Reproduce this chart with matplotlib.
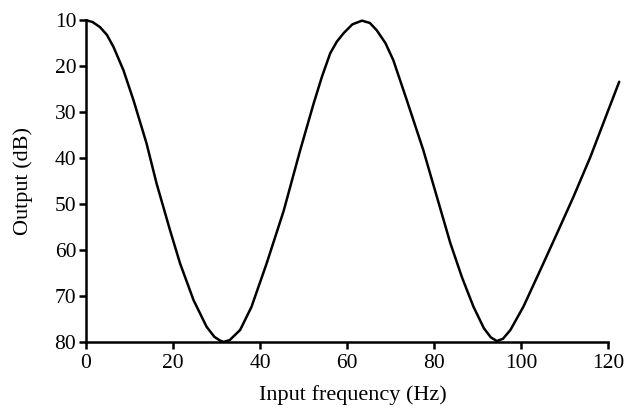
import matplotlib.pyplot as plt

# === DATA ===
freq_hz = [0, 1.5, 3.2, 4.8, 6.3, 8.6, 10.9, 13.9, 16.2, 19.3, 21.6,
           24.7, 27.7, 29.5, 30.8, 31.6, 33.0, 35.4, 38.0, 41.5, 45.4,
           49.2, 52.3, 54.2, 56.1, 57.6, 59.2, 61.2, 63.4, 65.2, 66.8,
           68.8, 70.6, 73.7, 77.5, 80.6, 83.7, 86.4, 89.0, 91.4, 93.0,
           94.4, 95.8, 97.5, 100.5, 104.4, 108.2, 112.0, 115.9, 119.7, 122.5]
output_db = [10, 10.4, 11.5, 13.2, 15.8, 20.9, 27.4, 36.8, 45.5, 55.7, 62.9,
             70.9, 76.7, 78.9, 79.7, 80, 79.6, 77.4, 72.4, 62.9, 51.5,
             38.3, 28.1, 22.3, 17.2, 14.7, 12.8, 10.9, 10.1, 10.6, 12.2,
             15.0, 18.7, 27.4, 38.3, 48.4, 58.5, 66.0, 72.3, 77.0, 79.0,
             79.8, 79.3, 77.4, 72.3, 64.3, 56.4, 48.4, 39.7, 30.3, 23.4]
x_ticks = [0, 20, 40, 60, 80, 100, 120]
y_ticks = [10, 20, 30, 40, 50, 60, 70, 80]

plt.rcParams['font.family'] = ['Liberation Serif', 'DejaVu Serif']

fig = plt.figure(figsize=(6.28, 4.12), dpi=100)
ax = fig.add_axes([0.137, 0.170, 0.849, 0.781])

ax.plot(freq_hz, output_db, color="black", lw=1.8, clip_on=False,
        solid_capstyle="round", solid_joinstyle="round")

ax.set_xlim(0, 122.5)
ax.set_ylim(80, 10)
ax.set_xticks(x_ticks)
ax.set_yticks(y_ticks)

ax.spines["top"].set_visible(False)
ax.spines["right"].set_visible(False)
ax.spines["bottom"].set_bounds(0, 120)
for s in ("left", "bottom"):
    ax.spines[s].set_linewidth(1.8)
ax.tick_params(direction="out", length=5, width=1.8, labelsize=15.5)
ax.tick_params(axis="x", pad=4)
ax.tick_params(axis="y", pad=2)

ax.set_xlabel("Input frequency (Hz)", fontsize=16)
ax.set_ylabel("Output (dB)", fontsize=16)
ax.xaxis.set_label_coords(0.5, -0.135)
ax.yaxis.set_label_coords(-0.10, 0.5)

fig.savefig("out.png", dpi=100)
